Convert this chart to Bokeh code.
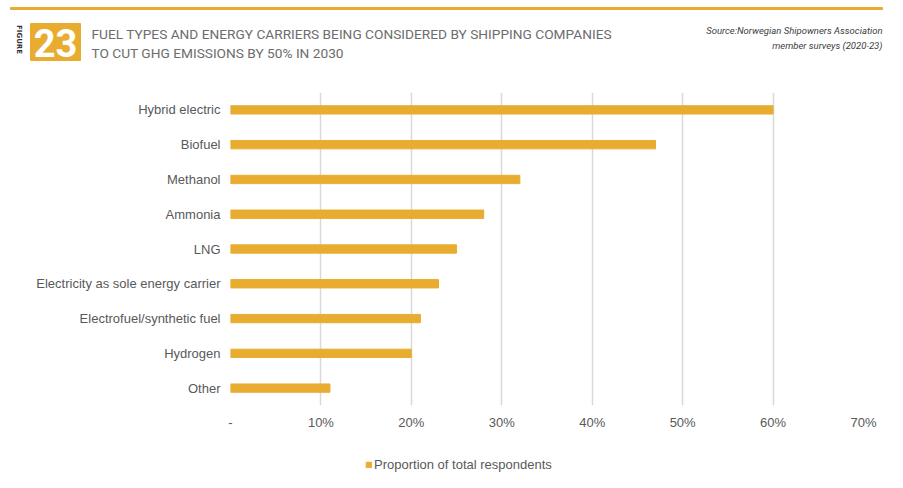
from math import pi

from bokeh.plotting import figure
from bokeh.layouts import column
from bokeh.models import ColumnDataSource, FactorRange, FixedTicker, Range1d
from bokeh.core.properties import value
from bokeh.embed import file_html
from bokeh.resources import INLINE

# datos (porcentaje de respuestas)
fuels = ["Hybrid electric", "Biofuel", "Methanol", "Ammonia", "LNG",
         "Electricity as sole energy carrier", "Electrofuel/synthetic fuel",
         "Hydrogen", "Other"]
share = [60, 47, 32, 28, 25, 23, 21, 20, 11]
tick_values = [0, 10, 20, 30, 40, 50, 60, 70]
tick_labels = ["-", "10%", "20%", "30%", "40%", "50%", "60%", "70%"]

fig_number = "23"
title_lines = ["FUEL TYPES AND ENERGY CARRIERS BEING CONSIDERED BY SHIPPING COMPANIES",
               "TO CUT GHG EMISSIONS BY 50% IN 2030"]
source_lines = ["Source:Norwegian Shipowners Association", "member surveys (2020-23)"]
legend_text = "Proportion of total respondents"

ORANGE = "#E8AD30"
GREY_TXT = "#595959"
W = 895
HEAD_H = 70
MAIN_H = 370
FOOT_H = 40


def blank_fig(h):
    # figura sin ejes: el marco ocupa todo el lienzo, coordenadas = pixeles
    f = figure(width=W, height=h, x_range=Range1d(0, W), y_range=Range1d(h, 0),
               output_backend="svg", toolbar_location=None,
               x_axis_location=None, y_axis_location=None,
               min_border=0, min_border_left=0, min_border_right=0,
               min_border_top=0, min_border_bottom=0)
    f.outline_line_color = None
    f.grid.visible = False
    f.frame_align = False
    return f


# --- cabecera ---
head = blank_fig(HEAD_H)
head.quad(left=[10], right=[882], top=[7], bottom=[9], color=ORANGE)
head.quad(left=[30], right=[80], top=[23], bottom=[60], color=ORANGE)
head.text(x=[55], y=[42.5], text=[fig_number], text_font=value("Roboto"),
          text_font_style="bold", text_font_size="38px", text_color="white",
          text_align="center", text_baseline="middle")
head.text(x=[18], y=[39], text=["FIGURE"], text_font=value("DejaVu Sans"),
          text_font_style="bold", text_font_size="7px", text_color="#333333",
          text_align="center", text_baseline="middle", angle=-pi / 2)
head.text(x=[91, 91], y=[33, 52], text=title_lines, text_font=value("Roboto"),
          text_font_size="13.7px", text_color="#6D6D6D", text_baseline="middle")
head.text(x=[882, 882], y=[30, 45], text=source_lines, text_font=value("Roboto"),
          text_font_style="italic", text_font_size="9.5px", text_color="#404040",
          text_align="right", text_baseline="middle")

# --- grafico de barras ---
source = ColumnDataSource(data=dict(fuel=fuels, share=share))

p = figure(y_range=FactorRange(factors=fuels[::-1]), x_range=(0, 70),
           width=W, height=MAIN_H, output_backend="svg", toolbar_location=None,
           min_border_left=230, min_border_right=32, min_border_top=92 - HEAD_H,
           min_border_bottom=HEAD_H + MAIN_H - 405)
p.outline_line_color = None
p.frame_align = False

p.hbar(y="fuel", right="share", height=0.24, source=source, color=ORANGE)

p.xaxis.ticker = FixedTicker(ticks=tick_values)
p.xaxis.major_label_overrides = dict(zip(tick_values, tick_labels))
for ax in (p.xaxis, p.yaxis):
    ax.axis_line_color = None
    ax.major_tick_out = 0
    ax.major_tick_in = 0
    ax.minor_tick_out = 0
    ax.minor_tick_in = 0
    ax.major_label_text_font = "Liberation Sans"
    ax.major_label_text_font_size = "13px"
    ax.major_label_text_color = GREY_TXT
p.xaxis.major_label_standoff = 9
p.yaxis.major_label_standoff = 10

p.ygrid.grid_line_color = None
p.xgrid.grid_line_color = "#D9D9D9"
p.xgrid.grid_line_width = 1.5

# --- pie con la leyenda (renderer oculto solo para la muestra de color) ---
foot = blank_fig(FOOT_H)
swatch = foot.hbar(y=[0], right=[0], height=1, color=ORANGE, legend_label=legend_text)
swatch.visible = False
foot.legend.location = (365, 8)
foot.legend.click_policy = "none"
foot.legend.border_line_color = None
foot.legend.background_fill_alpha = 0
foot.legend.padding = 0
foot.legend.margin = 0
foot.legend.glyph_width = 7
foot.legend.glyph_height = 7
foot.legend.label_height = 15
foot.legend.label_standoff = 2
foot.legend.label_text_font = "Liberation Sans"
foot.legend.label_text_font_size = "13px"
foot.legend.label_text_color = GREY_TXT

layout = column(head, p, foot, spacing=0)
open("out.html", "w").write(file_html(layout, INLINE))
